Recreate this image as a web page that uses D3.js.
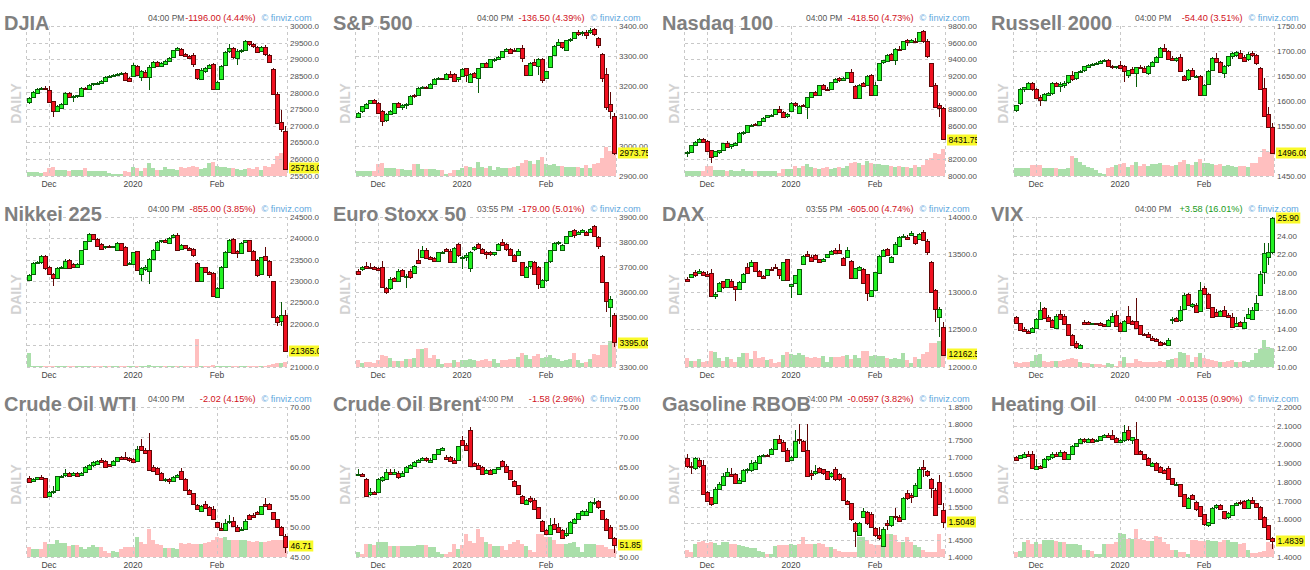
<!DOCTYPE html>
<html>
<head>
<meta charset="utf-8">
<script src="https://cdn.jsdelivr.net/npm/d3@7"></script>
<style>
  body { margin: 0; background: #fff; }
  svg { display: block; font-family: "Liberation Sans", Arial, sans-serif; }
</style>
</head>
<body>
<div id="chart"></div>
<script>
// trading days shown on every panel
const days = [
  "2019-11-22","2019-11-25","2019-11-26","2019-11-27","2019-11-29",
  "2019-12-02","2019-12-03","2019-12-04","2019-12-05","2019-12-06","2019-12-09","2019-12-10","2019-12-11",
  "2019-12-12","2019-12-13","2019-12-16","2019-12-17","2019-12-18","2019-12-19","2019-12-20","2019-12-23",
  "2019-12-24","2019-12-26","2019-12-27","2019-12-30","2019-12-31",
  "2020-01-02","2020-01-03","2020-01-06","2020-01-07","2020-01-08","2020-01-09","2020-01-10","2020-01-13",
  "2020-01-14","2020-01-15","2020-01-16","2020-01-17","2020-01-21","2020-01-22","2020-01-23","2020-01-24",
  "2020-01-27","2020-01-28","2020-01-29","2020-01-30","2020-01-31",
  "2020-02-03","2020-02-04","2020-02-05","2020-02-06","2020-02-07","2020-02-10","2020-02-11","2020-02-12",
  "2020-02-13","2020-02-14","2020-02-18","2020-02-19","2020-02-20","2020-02-21","2020-02-24","2020-02-25",
  "2020-02-26","2020-02-27"
];
const tickDays = ["2019-12-02", "2020-01-02", "2020-02-03"];
const tickNames = ["Dec", "2020", "Feb"];

const titles = ["DJIA", "S&P 500", "Nasdaq 100", "Russell 2000", "Nikkei 225", "Euro Stoxx 50", "DAX", "VIX",
  "Crude Oil WTI", "Crude Oil Brent", "Gasoline RBOB", "Heating Oil"];
const times = ["04:00 PM", "04:00 PM", "04:00 PM", "04:00 PM", "04:00 PM", "03:55 PM", "03:55 PM", "04:00 PM",
  "04:00 PM", "04:00 PM", "04:00 PM", "04:00 PM"];
const changes = ["-1196.00 (4.44%)", "-136.50 (4.39%)", "-418.50 (4.73%)", "-54.40 (3.51%)", "-855.00 (3.85%)",
  "-179.00 (5.01%)", "-605.00 (4.74%)", "+3.58 (16.01%)", "-2.02 (4.15%)", "-1.58 (2.96%)",
  "-0.0597 (3.82%)", "-0.0135 (0.90%)"];
const lastLabels = ["25718.00", "2973.75", "8431.75", "1496.00", "21365.00", "3395.00", "12162.50", "25.90",
  "46.71", "51.85", "1.5048", "1.4839"];
const yMin = [25500, 2900, 8000, 1450, 21000, 3300, 12000, 10, 45, 50, 1.40, 1.40];
const yMax = [30000, 3400, 9800, 1750, 24500, 3900, 14000, 26, 70, 75, 1.85, 2.20];
const tickMax = [30000, 3400, 9800, 1750, 24500, 3900, 14000, 24, 70, 75, 1.85, 2.20];
const yStep = [500, 100, 200, 50, 500, 100, 500, 2, 5, 5, 0.05, 0.1];
const yDigits = [2, 2, 2, 2, 2, 2, 2, 2, 2, 2, 4, 4];

// [open, high, low, close]
const djia = [
[27700,27860,27660,27830],[27860,28030,27850,28010],[27990,28130,27970,28110],[28100,28160,28080,28130],[28140,28180,28080,28100],
[28080,28190,27700,27730],[27740,27750,27260,27430],[27430,27610,27400,27590],[27540,27680,27500,27660],[27660,28000,27640,27980],
[27980,28000,27850,27870],[27870,27920,27710,27900],[27890,27930,27840,27910],[27900,28150,27890,28130],[28140,28170,28080,28110],
[28120,28240,28110,28230],[28230,28290,28200,28270],[28260,28300,28230,28290],[28280,28370,28270,28350],[28350,28480,28340,28470],
[28470,28520,28450,28510],[28510,28560,28490,28540],[28540,28580,28510,28550],[28560,28620,28530,28600],[28600,28620,28370,28390],
[28440,28460,28330,28360],[28480,28880,28470,28820],[28810,28840,28520,28540],[28450,28680,28330,28640],[28620,28680,28440,28460],
[28460,28820,28060,28760],[28750,28960,28730,28910],[28910,28950,28780,28800],[28800,28920,28780,28900],[28880,28980,28860,28960],
[28950,29060,28940,29050],[29050,29290,29040,29270],[29270,29360,29260,29330],[29320,29340,29130,29150],[29150,29180,29080,29100],
[29110,29130,29020,29060],[29140,29200,28760,28860],[28700,28720,28380,28420],[28420,28730,28400,28690],[28650,28780,28600,28740],
[28740,28870,28700,28820],[28860,28880,28100,28120],[28120,28350,28100,28320],[28400,28830,28390,28800],[28830,29250,28820,29230],
[29230,29470,29200,29330],[29330,29360,29020,29060],[29060,29300,28820,29260],[29260,29310,29190,29270],[29280,29570,29270,29540],
[29540,29560,29410,29450],[29450,29500,29350,29390],[29380,29410,29180,29220],[29230,29410,29220,29360],[29360,29420,29100,29140],
[29140,29160,28880,28920],[28720,28730,27930,27960],[27960,28000,27050,27080],[27100,27480,26800,26880],[26850,26980,25710,25720]
];
const djiaVol = [4,4,4,3,4, 8,9,6,6,6, 5,6,6,6,8, 5,5,5,5,5, 3,2,2,2,5, 4,9,8,5,8, 13,8,6,6,9,
  7,7,6,9,8, 9,10,9,7,8, 13,14,10,9,9, 8,8,7,6,7, 8,7,9,6,10, 9,12,20,23,24];

const spx = [
[3098,3112,3093,3110],[3114,3133,3110,3131],[3127,3142,3124,3140],[3141,3153,3138,3151],[3152,3155,3138,3141],
[3143,3145,3106,3108],[3116,3118,3065,3084],[3086,3108,3080,3106],[3107,3119,3103,3117],[3109,3144,3107,3142],
[3143,3146,3127,3129],[3131,3139,3120,3137],[3135,3143,3122,3140],[3138,3168,3136,3166],[3170,3173,3160,3168],
[3171,3196,3169,3194],[3192,3198,3189,3196],[3196,3199,3188,3191],[3194,3209,3192,3207],[3208,3226,3206,3224],
[3223,3228,3221,3226],[3225,3227,3220,3222],[3222,3242,3220,3240],[3240,3250,3228,3231],[3239,3242,3212,3216],
[3220,3230,3213,3228],[3232,3258,3230,3256],[3258,3261,3212,3233],[3214,3243,3210,3241],[3243,3247,3225,3229],
[3225,3260,3177,3258],[3260,3277,3258,3275],[3276,3280,3260,3263],[3262,3290,3260,3288],[3285,3292,3278,3289],
[3289,3298,3285,3296],[3297,3318,3295,3316],[3314,3328,3312,3322],[3322,3328,3308,3310],[3320,3325,3314,3317],
[3315,3328,3313,3326],[3325,3338,3280,3292],[3268,3270,3232,3235],[3236,3278,3234,3276],[3280,3290,3268,3270],
[3268,3293,3235,3291],[3290,3292,3210,3221],[3226,3251,3222,3249],[3260,3300,3258,3298],[3305,3336,3303,3334],
[3335,3356,3333,3345],[3345,3348,3322,3327],[3318,3354,3316,3352],[3352,3359,3345,3357],[3360,3381,3358,3379],
[3380,3386,3365,3373],[3378,3382,3368,3380],[3380,3385,3358,3370],[3380,3392,3374,3386],[3390,3394,3365,3373],
[3360,3363,3325,3337],[3305,3310,3214,3225],[3238,3260,3118,3128],[3139,3180,3090,3116],[3098,3110,2970,2974]
];
const spxVol = [5,5,5,5,5, 12,13,8,8,8, 7,7,6,6,12, 12,7,7,7,7, 6,6,2,3,6, 6,8,10,9,8, 14,9,8,10,6,
  9,8,8,8,9, 10,13,16,15,12, 16,19,12,11,12, 10,10,9,9,9, 9,8,11,8,12, 13,18,29,25,22];

const ndx = [
[8270,8300,8220,8280],[8283,8370,8270,8364],[8364,8410,8350,8404],[8404,8450,8395,8444],[8444,8455,8400,8404],
[8420,8430,8300,8303],[8303,8310,8150,8222],[8235,8300,8220,8290],[8280,8310,8260,8303],[8300,8395,8295,8390],
[8394,8410,8340,8345],[8350,8380,8320,8375],[8360,8400,8350,8390],[8400,8520,8395,8510],[8510,8540,8490,8520],
[8525,8610,8520,8605],[8600,8620,8590,8610],[8615,8630,8590,8600],[8605,8660,8600,8655],[8660,8700,8650,8695],
[8700,8730,8690,8725],[8720,8735,8710,8728],[8730,8805,8725,8795],[8800,8840,8760,8765],[8768,8775,8700,8710],
[8715,8750,8690,8740],[8770,8880,8765,8872],[8870,8890,8820,8840],[8750,8850,8740,8835],[8845,8860,8820,8830],
[8820,8950,8675,8940],[8945,9010,8935,9005],[9010,9020,8960,8970],[8970,9090,8960,9085],[9085,9100,9030,9035],
[9040,9060,9020,9030],[9040,9130,9030,9125],[9130,9170,9120,9165],[9168,9180,9130,9140],[9150,9180,9140,9170],
[9170,9250,9160,9245],[9245,9280,9120,9128],[9080,9090,8920,8930],[8930,9100,8920,9090],[9110,9130,9060,9075],
[9090,9205,9080,9200],[9210,9220,8960,8970],[8975,9120,8965,9092],[9150,9360,9140,9355],[9355,9390,9340,9385],
[9385,9460,9380,9455],[9460,9470,9380,9390],[9390,9530,9330,9525],[9525,9560,9500,9515],[9520,9620,9510,9615],
[9630,9640,9560,9610],[9615,9640,9600,9635],[9625,9650,9600,9615],[9620,9730,9615,9725],[9740,9750,9600,9615],
[9620,9640,9420,9435],[9350,9360,9070,9075],[9090,9110,8830,8830],[8850,8870,8700,8815],[8810,8830,8425,8432]
];
const ndxVol = [5,5,5,5,5, 10,10,6,6,6, 5,6,5,5,7, 5,5,5,5,5, 5,5,5,3,7, 7,7,10,8,10, 12,9,8,7,8,
  9,7,8,9,8, 10,13,14,13,11, 15,13,12,12,11, 11,10,9,10,9, 9,8,11,9,11, 16,18,23,22,27];

const rut = [
[1582,1592,1578,1592],[1594,1625,1592,1623],[1622,1628,1618,1627],[1624,1637,1622,1636],[1636,1638,1620,1623],
[1623,1625,1604,1605],[1608,1612,1590,1602],[1601,1615,1599,1614],[1612,1618,1610,1616],[1614,1637,1612,1635],
[1636,1638,1628,1629],[1630,1638,1618,1634],[1631,1640,1625,1636],[1636,1652,1634,1651],[1652,1660,1640,1643],
[1644,1658,1642,1657],[1657,1662,1655,1660],[1660,1670,1658,1669],[1668,1674,1666,1672],[1671,1676,1670,1674],
[1674,1678,1672,1676],[1676,1681,1675,1680],[1680,1684,1678,1682],[1682,1683,1667,1669],[1669,1671,1664,1666],
[1666,1670,1664,1669],[1672,1680,1664,1665],[1670,1672,1638,1660],[1650,1662,1645,1661],[1664,1668,1655,1656],
[1655,1668,1627,1667],[1668,1672,1664,1666],[1666,1670,1656,1657],[1655,1672,1652,1670],[1669,1679,1667,1678],
[1678,1689,1676,1688],[1687,1708,1685,1706],[1706,1713,1698,1699],[1699,1702,1682,1683],[1685,1690,1680,1681],
[1681,1688,1678,1686],[1688,1694,1659,1659],[1650,1652,1640,1641],[1642,1663,1640,1661],[1662,1665,1648,1649],
[1648,1652,1646,1650],[1650,1652,1611,1612],[1612,1634,1610,1632],[1634,1662,1632,1660],[1661,1687,1659,1685],
[1686,1695,1677,1678],[1678,1680,1655,1657],[1655,1671,1645,1669],[1670,1690,1668,1689],[1688,1697,1684,1695],
[1692,1700,1688,1698],[1695,1702,1683,1684],[1688,1692,1678,1679],[1682,1698,1680,1693],[1695,1700,1688,1690],
[1691,1694,1672,1674],[1665,1667,1622,1622],[1625,1645,1568,1568],[1573,1587,1545,1546],[1548,1556,1496,1496]
];
const rutVol = [8,8,8,8,11, 11,11,8,8,8, 8,7,7,8,20, 18,14,11,9,8, 6,3,2,8,9, 11,12,13,9,11, 14,10,12,10,12,
  12,13,11,11,10, 11,14,16,12,11, 14,17,13,13,12, 11,12,10,11,10, 9,10,10,9,13, 13,19,27,24,24];

const nikkei = [
[23030,23160,23000,23150],[23170,23440,23160,23420],[23420,23470,23400,23440],[23430,23620,23410,23580],[23580,23620,23270,23290],
[23340,23360,23150,23170],[23170,23180,22880,23080],[23070,23340,23060,23310],[23300,23350,23280,23330],[23310,23510,23300,23480],
[23500,23520,23300,23310],[23400,23420,23300,23320],[23330,23420,23320,23400],[23400,23730,23390,23720],[23750,23940,23740,23930],
[23930,24120,23920,24100],[24100,24110,23980,23990],[23990,24000,23820,23830],[23870,23880,23740,23760],[23780,23830,23760,23810],
[23810,23840,23790,23800],[23790,23830,23780,23820],[23730,23920,23720,23900],[23890,23900,23700,23720],[23800,23810,23380,23390],
[23400,23440,23380,23420],[23410,23690,23400,23680],[23700,23710,23240,23260],[23170,23330,23000,23300],[23290,23380,23240,23340],
[23250,23540,22930,23520],[23520,23740,23510,23730],[23730,23930,23720,23920],[23920,23970,23880,23950],[23950,23980,23880,23900],
[23910,24040,23900,24020],[24030,24100,24020,24080],[24080,24120,23730,23740],[23740,23860,23730,23840],[23840,23850,23740,23760],
[23780,23790,23720,23740],[23760,23770,23560,23620],[23430,23440,22990,23000],[23000,23340,22990,23330],[23330,23340,23200,23210],
[23220,23230,23150,23170],[23200,23210,22640,22660],[22620,22860,22600,22840],[22840,23360,22830,23340],[23340,23700,23330,23680],
[23680,23980,23670,23960],[23980,24000,23640,23660],[23700,23720,23550,23660],[23660,23920,23650,23900],[23900,23970,23880,23950],
[23960,23970,23680,23700],[23700,23720,23490,23500],[23500,23510,23100,23160],[23160,23570,23150,23560],[23580,23790,23470,23480],
[23480,23500,23080,23160],[23000,23010,22150,22160],[22160,22180,21950,22040],[22050,22500,21950,22200],[22200,22320,21350,21365]
];
const nikkeiVol = [14,1,1,1,1, 1,1,0.5,0.5,0.5, 1,0.5,0.5,1,1, 1,0.5,0.5,0.5,0.5, 0.5,0.5,0.5,0.5,0.5,
  0.5,1,1,1,1, 1.5,1,0.5,0.5,0.5, 0.5,1,0.5,0.5,0.5, 0.5,1,28,1,1, 1,1.5,1,1,1, 0.5,0.5,0.5,0.5,0.5,
  0.5,0.5,0.5,1,1, 2,3,4,4,5];

const stoxx = [
[3683,3690,3672,3672],[3688,3705,3685,3698],[3702,3718,3692,3695],[3700,3715,3693,3696],[3698,3702,3688,3690],
[3695,3700,3686,3688],[3700,3725,3615,3618],[3615,3620,3590,3600],[3615,3660,3608,3652],[3656,3660,3640,3645],
[3645,3690,3640,3685],[3688,3692,3660,3662],[3659,3670,3615,3665],[3682,3690,3652,3656],[3675,3708,3670,3705],
[3729,3770,3718,3718],[3740,3785,3735,3769],[3769,3775,3735,3737],[3740,3745,3730,3733],[3737,3740,3720,3726],
[3723,3760,3718,3758],[3756,3765,3750,3760],[3770,3775,3758,3760],[3765,3770,3717,3719],[3722,3780,3718,3777],
[3790,3795,3740,3745],[3735,3745,3692,3740],[3740,3755,3725,3748],[3692,3762,3680,3758],[3770,3785,3765,3780],
[3790,3795,3770,3773],[3773,3776,3750,3755],[3760,3765,3730,3753],[3760,3765,3745,3750],[3750,3760,3745,3758],
[3768,3795,3765,3792],[3800,3810,3785,3786],[3790,3795,3765,3770],[3770,3775,3742,3746],[3746,3750,3720,3723],
[3745,3770,3742,3763],[3718,3720,3665,3665],[3660,3705,3656,3700],[3700,3725,3690,3722],[3720,3725,3670,3672],
[3700,3702,3610,3630],[3620,3652,3618,3648],[3645,3720,3640,3718],[3720,3768,3715,3766],[3766,3798,3762,3795],
[3795,3805,3788,3800],[3766,3790,3762,3788],[3792,3825,3790,3822],[3823,3845,3820,3842],[3846,3850,3815,3826],
[3832,3842,3828,3840],[3838,3850,3834,3846],[3840,3845,3825,3826],[3840,3855,3835,3852],[3862,3868,3818,3820],
[3820,3825,3770,3785],[3745,3748,3638,3640],[3640,3640,3520,3565],[3538,3583,3457,3571],[3505,3515,3380,3395]
];
const stoxxVol = [7,4,5,5,4, 7,12,11,9,6, 6,6,8,8,9, 18,18,19,9,12, 8,3,4,4,7, 5,7,7,8,7, 6,7,8,6,8,
  4,7,7,8,8, 10,14,12,8,11, 13,9,10,12,9, 8,6,7,8,14, 7,4,5,8,13, 12,22,22,26,24];

const dax = [
[13165,13200,13130,13135],[13190,13240,13180,13235],[13258,13290,13200,13215],[13245,13310,13240,13275],[13260,13280,13215,13222],
[13240,13280,13200,13215],[13250,13310,12930,12940],[12945,12990,12900,12975],[13015,13130,13000,13120],[13140,13150,13040,13055],
[13060,13170,13050,13165],[13150,13175,13070,13075],[13075,13080,12880,13040],[13040,13140,13030,13132],[13130,13250,13120,13236],
[13330,13390,13240,13245],[13335,13420,13330,13393],[13393,13400,13260,13270],[13280,13290,13200,13210],[13210,13220,13170,13180],
[13220,13310,13215,13303],[13310,13330,13285,13290],[13330,13370,13310,13312],[13300,13305,13170,13222],[13150,13400,13145,13393],
[13435,13440,13150,13155],[13075,13110,12920,13100],[13110,13225,13105,13220],[12965,13310,12955,13300],[13370,13490,13365,13480],
[13505,13540,13470,13480],[13460,13490,13400,13403],[13485,13500,13420,13425],[13435,13440,13380,13390],[13407,13445,13400,13438],
[13470,13510,13465,13505],[13515,13560,13510,13550],[13560,13590,13510,13525],[13560,13640,13500,13515],[13450,13460,13350,13360],
[13470,13600,13465,13560],[13415,13420,13185,13190],[13180,13320,13175,13312],[13300,13340,13280,13335],[13310,13320,13110,13120],
[13235,13240,12870,12975],[12940,13030,12930,13020],[13020,13270,13015,13265],[13250,13490,13245,13480],[13480,13570,13475,13560],
[13570,13580,13490,13495],[13405,13480,13400,13470],[13510,13660,13505,13640],[13615,13750,13610,13730],[13730,13770,13720,13745],
[13730,13760,13700,13705],[13755,13810,13750,13785],[13740,13745,13630,13640],[13705,13790,13700,13775],[13805,13820,13690,13694],
[13685,13700,13490,13535],[13400,13405,12980,12995],[13030,13040,12600,12770],[12670,12790,12390,12773],[12530,12590,12135,12162]
];
const daxVol = [9,6,6,8,5, 6,16,15,9,6, 10,8,5,10,14, 14,8,16,9,10, 7,8,4,5,12, 15,13,12,14,12, 10,9,10,9,11,
  5,10,10,10,11, 12,8,12,9,16, 16,11,12,11,11, 9,8,9,8,14, 7,4,10,8,13, 15,24,24,26,18];

const vix = [
[15.30,15.40,14.60,14.63],[14.65,14.70,13.80,13.85],[14.00,14.20,13.70,13.77],[13.85,13.90,13.60,13.66],[13.66,14.20,13.60,14.13],
[14.13,15.20,14.10,15.10],[15.10,16.95,15.00,16.10],[16.28,16.40,15.10,15.20],[15.30,15.50,14.80,14.85],[15.00,15.10,14.20,14.20],
[14.20,15.60,14.10,15.45],[15.60,16.10,15.00,15.10],[15.40,15.60,14.50,14.56],[14.55,14.60,13.40,13.40],[13.40,13.50,12.30,12.33],
[12.47,12.70,11.90,12.05],[12.05,12.40,11.90,12.33],[14.75,14.95,14.50,14.55],[14.75,14.85,14.50,14.50],[14.50,14.70,14.45,14.62],
[14.62,14.70,14.45,14.50],[14.70,14.80,14.50,14.50],[14.55,14.60,14.35,14.38],[14.38,15.10,14.30,14.98],[14.85,15.70,14.80,15.45],
[15.55,15.95,14.35,14.38],[14.70,14.80,13.80,13.85],[13.85,14.95,13.80,14.90],[15.45,16.50,14.60,14.65],[14.90,15.00,14.50,14.55],
[14.90,17.30,14.10,14.10],[14.40,14.40,13.40,13.40],[13.48,13.60,13.35,13.37],[13.45,13.70,13.10,13.13],[13.10,13.25,12.80,12.85],
[12.95,13.10,12.70,12.75],[12.65,12.70,12.30,12.33],[12.50,12.60,12.30,12.35],[12.33,13.00,12.20,12.85],[15.00,15.30,14.60,15.10],
[15.20,15.30,14.75,14.85],[14.90,16.50,14.80,16.00],[16.20,17.90,16.10,17.70],[17.75,17.90,16.50,16.55],[16.45,16.80,16.30,16.65],
[16.60,16.80,15.80,15.85],[15.85,19.00,15.80,18.15],[18.40,18.60,17.70,17.80],[17.80,17.90,16.30,16.35],[16.40,16.40,15.30,15.35],
[15.80,16.20,15.30,15.35],[15.35,16.00,15.30,15.92],[16.05,16.50,15.40,15.45],[15.55,15.70,15.30,15.35],[15.35,15.70,14.30,14.30],
[14.30,15.30,14.20,14.65],[14.75,14.90,14.20,14.28],[14.20,15.30,14.10,14.80],[15.20,16.30,15.10,15.60],[15.10,16.40,15.00,16.10],
[16.10,17.65,16.00,16.80],[17.70,20.20,17.60,19.95],[20.10,23.20,18.80,22.10],[21.80,23.20,20.85,22.30],[22.30,25.95,22.00,25.90]
];
const vixVol = [5,4,5,5,6, 12,13,6,5,6, 6,6,7,8,9, 8,5,4,4,3, 3,3,2,4,3, 1,6,10,4,4, 8,6,5,5,5,
  5,6,5,7,8, 9,15,14,12,5, 10,14,9,8,7, 6,5,5,6,7, 5,5,6,5,7, 14,18,27,20,19];

const wti = [
[58.20,58.50,57.40,57.50],[57.64,58.10,57.50,58.03],[58.00,58.35,57.90,58.30],[58.35,58.60,57.80,57.95],[58.10,58.20,55.00,55.00],
[55.10,56.00,55.00,55.80],[55.70,56.80,55.50,55.95],[56.10,58.50,56.00,58.40],[58.25,58.70,58.10,58.50],[58.50,59.60,58.30,58.90],
[59.00,59.10,58.40,58.50],[58.60,59.10,58.40,59.00],[59.00,59.20,58.30,58.50],[58.60,59.10,58.50,59.00],[59.10,60.20,59.00,59.90],
[59.70,60.50,59.60,60.30],[60.20,60.90,60.00,60.75],[60.50,61.20,60.40,61.00],[61.10,61.40,60.60,60.70],[61.05,61.20,59.90,60.00],
[60.40,60.50,59.90,60.00],[60.40,61.10,60.30,61.00],[61.00,61.70,60.90,61.70],[61.70,61.80,61.10,61.30],[61.60,62.40,61.20,61.30],
[61.40,61.60,60.80,61.00],[61.30,61.50,60.60,60.80],[61.00,63.50,60.90,63.00],[63.50,64.70,62.80,62.85],[62.85,63.20,62.30,62.40],
[62.80,65.70,59.40,59.50],[59.90,60.30,59.10,59.30],[59.80,60.00,58.70,58.80],[58.90,59.20,57.80,57.80],[57.80,58.20,57.50,58.00],
[58.00,58.10,57.20,57.60],[57.70,58.40,57.60,58.30],[58.30,58.80,58.10,58.70],[59.30,59.80,57.90,58.00],[58.00,58.10,56.20,56.20],
[56.10,56.30,55.30,55.40],[55.60,55.70,53.60,53.70],[53.60,53.80,52.80,53.00],[52.60,53.60,52.50,53.40],[53.80,54.20,53.00,53.10],
[53.20,53.40,51.70,51.80],[53.00,53.40,51.20,51.30],[50.70,50.80,49.80,49.80],[49.80,50.60,49.30,49.40],[49.40,51.20,49.20,50.60],
[50.70,51.90,50.40,50.90],[50.90,51.60,50.00,50.10],[50.00,50.20,49.30,49.40],[49.40,49.90,49.30,49.60],[49.60,51.20,49.50,50.90],
[51.90,52.10,51.10,51.30],[52.00,52.30,51.50,51.60],[52.40,52.60,51.90,52.00],[52.00,53.50,51.90,53.40],[53.70,54.70,53.20,53.30],
[53.70,53.90,52.70,52.90],[52.40,52.50,51.10,51.20],[51.20,51.30,49.70,49.80],[50.00,50.10,48.50,48.65],[48.50,48.80,45.60,46.71]
];
const wtiVol = [10,8,8,8,15, 13,13,17,14,14, 11,12,12,10,8, 10,12,10,10,6, 4,6,5,8,10, 10,10,20,15,13,
  28,17,13,12,9, 9,9,8,14,13, 14,13,13,13,14, 15,17,20,19,20, 17,17,17,17,17, 16,15,16,15,15, 16,17,17,17,18];

const brent = [
[63.70,64.60,63.40,63.80],[63.80,64.00,63.40,63.50],[63.00,63.10,60.10,60.10],[60.40,61.50,60.20,60.80],[60.80,61.00,60.30,60.40],
[60.80,63.10,60.70,62.90],[62.80,63.50,62.40,63.30],[63.10,64.70,63.00,64.20],[64.20,64.60,63.80,63.90],[63.90,64.60,63.60,64.20],
[64.00,64.30,63.00,63.40],[63.50,64.30,63.30,64.00],[64.10,65.10,64.00,65.00],[64.80,65.40,64.60,65.30],[65.10,66.00,65.00,65.80],
[65.80,66.30,65.60,66.10],[66.00,66.60,65.90,66.40],[66.40,66.70,65.80,66.00],[65.90,66.40,65.70,66.20],[66.20,67.20,66.10,67.10],
[67.00,68.00,66.90,67.90],[67.90,68.30,67.70,68.20],[66.70,66.90,66.10,66.30],[66.60,66.80,65.80,65.90],[66.20,66.40,65.60,65.70],
[66.00,68.50,65.90,68.40],[69.40,70.20,68.40,68.60],[68.60,69.00,67.70,67.80],[71.20,71.70,65.20,65.20],[65.60,65.80,64.90,65.10],
[65.30,65.60,64.50,64.70],[65.00,65.20,63.90,63.90],[64.00,64.60,63.80,64.50],[64.50,64.70,63.60,63.80],[64.00,64.70,63.80,64.60],
[64.50,65.00,64.40,64.90],[65.90,66.10,64.90,65.10],[65.20,65.50,64.00,64.20],[64.40,64.50,62.90,62.90],[62.60,62.80,61.60,61.70],
[61.90,62.00,60.30,60.40],[60.10,60.30,59.00,59.00],[58.70,59.60,58.60,59.40],[59.80,60.10,59.00,59.30],[59.50,59.70,57.80,58.00],
[58.20,58.30,56.20,56.30],[55.90,56.10,54.20,54.20],[54.40,54.60,53.60,53.70],[53.70,56.50,53.60,55.20],[55.50,56.50,54.50,54.60],
[55.00,55.60,54.10,54.20],[54.40,54.60,53.10,53.10],[53.50,54.70,53.30,53.90],[54.00,56.00,53.90,55.80],[55.60,56.40,55.40,56.20],
[56.20,57.30,56.10,57.20],[57.00,57.80,56.70,57.60],[57.00,58.00,56.80,57.60],[57.40,59.20,57.30,59.10],[58.90,59.80,58.60,59.10],
[59.20,59.40,58.00,58.20],[57.70,57.80,56.10,56.20],[56.30,56.50,54.40,54.50],[55.00,55.20,53.00,53.10],[53.10,53.30,50.60,51.85]
];
const brentVol = [5,3,13,13,12, 15,15,15,11,11, 11,11,11,11,11, 12,12,12,10,10, 5,3,3,5,13, 8,12,23,16,14,
  28,20,15,13,11, 11,11,7,13,15, 17,13,11,7,5, 23,23,20,20,17, 13,13,13,14,15, 10,5,13,13,13, 12,12,10,8,8];

const rbob = [
[1.695,1.710,1.665,1.671],[1.672,1.685,1.648,1.670],[1.665,1.700,1.660,1.696],[1.690,1.695,1.665,1.672],[1.675,1.690,1.585,1.587],
[1.594,1.597,1.565,1.567],[1.578,1.580,1.553,1.557],[1.562,1.610,1.558,1.603],[1.602,1.625,1.600,1.617],[1.617,1.650,1.615,1.643],
[1.642,1.665,1.638,1.653],[1.648,1.665,1.640,1.643],[1.648,1.652,1.618,1.620],[1.622,1.635,1.618,1.630],[1.628,1.662,1.625,1.661],
[1.658,1.665,1.652,1.662],[1.660,1.690,1.655,1.682],[1.662,1.690,1.660,1.683],[1.683,1.706,1.680,1.703],[1.703,1.710,1.700,1.705],
[1.705,1.708,1.700,1.704],[1.708,1.727,1.705,1.724],[1.724,1.755,1.722,1.754],[1.755,1.765,1.740,1.742],[1.744,1.750,1.716,1.718],
[1.720,1.728,1.688,1.688],[1.692,1.702,1.690,1.700],[1.702,1.780,1.700,1.749],[1.755,1.800,1.740,1.751],[1.749,1.752,1.720,1.720],
[1.720,1.800,1.640,1.643],[1.652,1.660,1.630,1.645],[1.651,1.675,1.645,1.656],[1.666,1.668,1.650,1.653],[1.662,1.664,1.645,1.650],
[1.656,1.658,1.635,1.633],[1.643,1.655,1.635,1.652],[1.662,1.668,1.628,1.633],[1.647,1.650,1.628,1.633],[1.637,1.640,1.570,1.572],
[1.567,1.570,1.555,1.557],[1.560,1.562,1.508,1.511],[1.501,1.505,1.430,1.476],[1.466,1.505,1.462,1.501],[1.517,1.545,1.515,1.536],
[1.533,1.537,1.495,1.501],[1.529,1.535,1.490,1.491],[1.486,1.490,1.460,1.465],[1.465,1.490,1.450,1.455],[1.432,1.490,1.430,1.483],
[1.500,1.510,1.480,1.493],[1.493,1.520,1.490,1.521],[1.523,1.545,1.510,1.519],[1.519,1.525,1.505,1.506],[1.515,1.580,1.512,1.577],
[1.592,1.600,1.570,1.577],[1.585,1.590,1.560,1.578],[1.582,1.620,1.580,1.614],[1.607,1.670,1.605,1.663],[1.668,1.690,1.640,1.663],
[1.656,1.660,1.640,1.643],[1.632,1.635,1.575,1.604],[1.601,1.605,1.528,1.526],[1.625,1.645,1.555,1.560],[1.540,1.560,1.485,1.5048]
];
const rbobVol = [7,5,13,15,16, 14,15,14,12,15, 15,13,13,12,11, 10,9,9,6,5, 3,3,11,12,12, 12,13,12,13,20,
  13,13,13,14,13, 10,10,8,6,5, 5,5,5,20,20, 17,13,12,12,28, 23,23,22,15,15, 20,15,12,10,7, 5,5,5,23,8];

const heat = [
[1.935,1.940,1.915,1.918],[1.925,1.945,1.920,1.943],[1.932,1.960,1.930,1.948],[1.948,1.965,1.930,1.936],[1.948,1.965,1.870,1.871],
[1.868,1.920,1.865,1.882],[1.882,1.890,1.868,1.871],[1.876,1.925,1.874,1.921],[1.918,1.940,1.910,1.936],[1.930,1.960,1.920,1.948],
[1.948,1.960,1.935,1.936],[1.936,1.968,1.930,1.960],[1.957,1.962,1.915,1.921],[1.921,1.950,1.915,1.948],[1.950,1.995,1.945,1.993],
[1.990,2.010,1.985,2.008],[2.010,2.035,2.005,2.030],[2.027,2.035,2.010,2.015],[2.015,2.035,2.010,2.030],[2.030,2.035,2.012,2.015],
[2.020,2.030,2.015,2.022],[2.020,2.045,2.018,2.043],[2.040,2.055,2.035,2.050],[2.050,2.060,2.035,2.040],[2.050,2.075,2.025,2.030],
[2.035,2.040,2.005,2.012],[2.015,2.030,2.010,2.025],[2.020,2.105,2.015,2.065],[2.075,2.100,2.020,2.025],[2.020,2.040,2.000,2.038],
[2.030,2.120,1.945,1.950],[1.965,1.970,1.945,1.947],[1.948,1.950,1.920,1.921],[1.928,1.930,1.885,1.889],[1.886,1.905,1.880,1.903],
[1.903,1.905,1.865,1.867],[1.880,1.885,1.850,1.853],[1.865,1.870,1.848,1.850],[1.876,1.885,1.815,1.817],[1.820,1.822,1.780,1.786],
[1.786,1.800,1.775,1.787],[1.786,1.790,1.720,1.724],[1.732,1.735,1.665,1.670],[1.662,1.720,1.660,1.714],[1.727,1.735,1.700,1.706],
[1.690,1.695,1.645,1.652],[1.670,1.672,1.612,1.616],[1.626,1.630,1.565,1.571],[1.565,1.585,1.560,1.583],[1.580,1.665,1.578,1.662],
[1.660,1.682,1.655,1.673],[1.673,1.682,1.650,1.652],[1.642,1.645,1.605,1.607],[1.610,1.640,1.600,1.631],[1.617,1.675,1.615,1.673],
[1.675,1.690,1.670,1.684],[1.690,1.700,1.675,1.684],[1.699,1.700,1.655,1.660],[1.660,1.710,1.655,1.705],[1.702,1.718,1.680,1.684],
[1.684,1.688,1.660,1.664],[1.665,1.670,1.600,1.601],[1.611,1.615,1.555,1.558],[1.566,1.570,1.488,1.490],[1.498,1.505,1.440,1.4839]
];
const heatVol = [5,6,15,17,13, 15,13,17,17,17, 16,15,15,13,13, 13,12,7,7,6, 3,3,13,13,13, 15,24,23,18,18,
  28,18,17,16,16, 21,20,15,13,7, 7,5,5,3,17, 17,16,16,17,16, 16,15,17,17,15, 15,13,14,7,4, 4,5,6,15,13];

const candleSets = [djia, spx, ndx, rut, nikkei, stoxx, dax, vix, wti, brent, rbob, heat];
const volumeSets = [djiaVol, spxVol, ndxVol, rutVol, nikkeiVol, stoxxVol, daxVol, vixVol, wtiVol, brentVol, rbobVol, heatVol];

// look
const upFill = "#22f222", upLine = "#075c07";
const downFill = "#f01020", downLine = "#600606";
const volUp = "#aadfaa", volDown = "#ffbfbf";
const gridColor = "#c8c8c8";

const svg = d3.select("#chart").append("svg")
  .attr("width", 1310)
  .attr("height", 570);
const defs = svg.append("defs");

titles.forEach((name, k) => {
  const col = k % 4, row = Math.floor(k / 4);
  const ox = -2 + col * 329;
  const oy = Math.round(row * 190.5);
  const left = ox + 29, right = left + 260;
  const top = oy + 26, bottom = oy + 175.5;

  defs.append("clipPath").attr("id", "clip" + k)
    .append("rect").attr("x", ox).attr("y", oy).attr("width", 321).attr("height", 191);

  const g = svg.append("g").attr("clip-path", `url(#clip${k})`);

  const x = d3.scaleBand().domain(days).range([left, right]);
  const y = d3.scaleLinear().domain([yMin[k], yMax[k]]).range([bottom, top]);
  const v = d3.scaleLinear().domain([0, 30]).range([0, 30]);

  const bars = candleSets[k].map((c, i) => ({ day: days[i], o: c[0], h: c[1], l: c[2], c: c[3], vol: volumeSets[k][i] }));
  const up = d => d.c >= d.o;
  const last = bars[bars.length - 1];

  const nTicks = Math.round((tickMax[k] - yMin[k]) / yStep[k]);
  const ticks = d3.range(0, nTicks + 1).map(i => +(yMin[k] + i * yStep[k]).toFixed(4));
  const gridVals = Array.from(new Set([...ticks, yMax[k]]));
  // labels mostly hidden by the last-price tag are left out
  const labelTicks = ticks.filter(t => Math.abs(y(t) - y(last.c)) >= 7);

  // volume
  g.append("g").selectAll("rect").data(bars).join("rect")
    .attr("x", d => x(d.day))
    .attr("width", x.bandwidth())
    .attr("y", d => bottom - v(d.vol))
    .attr("height", d => v(d.vol))
    .attr("fill", d => up(d) ? volUp : volDown)
    .attr("shape-rendering", "crispEdges");

  // grid
  g.append("g").selectAll("line").data(gridVals).join("line")
    .attr("x1", left).attr("x2", right)
    .attr("y1", d => Math.round(y(d)) + 0.5).attr("y2", d => Math.round(y(d)) + 0.5)
    .attr("stroke", gridColor).attr("stroke-dasharray", "3,3");
  const vLines = [left - 0.5, right + 0.5, ...tickDays.map(d => x(d) + 2.5)];
  g.append("g").selectAll("line").data(vLines).join("line")
    .attr("x1", d => d).attr("x2", d => d)
    .attr("y1", top).attr("y2", bottom)
    .attr("stroke", gridColor).attr("stroke-dasharray", "3,3");

  // candles
  g.append("g").selectAll("line").data(bars).join("line")
    .attr("x1", d => x(d.day) + 2.5).attr("x2", d => x(d.day) + 2.5)
    .attr("y1", d => y(d.h)).attr("y2", d => y(d.l))
    .attr("stroke", d => up(d) ? upLine : downLine)
    .attr("shape-rendering", "crispEdges");
  g.append("g").selectAll("rect").data(bars).join("rect")
    .attr("x", d => x(d.day) + 0.5)
    .attr("width", 4)
    .attr("y", d => Math.round(y(Math.max(d.o, d.c))) + 0.5)
    .attr("height", d => Math.max(1, Math.round(Math.abs(y(d.o) - y(d.c)))))
    .attr("fill", d => up(d) ? upFill : downFill)
    .attr("stroke", d => up(d) ? upLine : downLine)
    .attr("stroke-width", 1)
    .attr("shape-rendering", "crispEdges");

  // price axis
  const yAxis = g.append("g")
    .attr("transform", `translate(${right},0)`)
    .call(d3.axisRight(y).tickValues(labelTicks).tickSize(0).tickPadding(3)
      .tickFormat(d3.format(`.${yDigits[k]}f`)));
  yAxis.select(".domain").remove();
  yAxis.selectAll("text")
    .attr("fill", "#505050")
    .style("font-size", "8px")
    .style("font-family", "'Liberation Sans', Arial, sans-serif");

  // date axis
  const xAxis = g.append("g")
    .attr("transform", `translate(0,${bottom})`)
    .call(d3.axisBottom(x).tickValues(tickDays).tickSize(0).tickPadding(5)
      .tickFormat(d => tickNames[tickDays.indexOf(d)]));
  xAxis.select(".domain").remove();
  xAxis.selectAll("text")
    .attr("fill", "#454545")
    .style("font-size", "8.5px")
    .style("font-family", "'Liberation Sans', Arial, sans-serif");

  // last price tag
  const tag = g.append("g");
  const tagRect = tag.append("rect");
  const tagText = tag.append("text")
    .attr("x", right + 3.5)
    .attr("y", y(last.c) + 3)
    .attr("fill", "#000")
    .style("font-size", "8.5px")
    .text(lastLabels[k]);
  const tw = tagText.node().getComputedTextLength();
  tagRect.attr("x", right + 2).attr("y", Math.round(y(last.c)) - 5.5)
    .attr("width", tw + 3).attr("height", 11)
    .attr("fill", "#f9f92a");

  // header
  g.append("text")
    .attr("x", ox + 150).attr("y", oy + 21)
    .attr("fill", "#555")
    .style("font-size", "8.5px")
    .text(times[k]);
  g.append("text")
    .attr("x", ox + 257.5).attr("y", oy + 21)
    .attr("text-anchor", "end")
    .attr("fill", changes[k].startsWith("+") ? "#1a9a1a" : "#d0101a")
    .style("font-size", "9.2px")
    .text(changes[k]);
  g.append("text")
    .attr("x", ox + 263.5).attr("y", oy + 21)
    .attr("fill", "#5fa8de")
    .style("font-size", "9.2px")
    .text("\u00a9 finviz.com");

  g.append("text")
    .attr("x", ox + 6).attr("y", oy + 29.5)
    .attr("fill", "#808080")
    .attr("stroke", "#fff")
    .attr("stroke-width", 2.5)
    .attr("paint-order", "stroke")
    .style("font-size", "20px")
    .style("font-weight", "bold")
    .text(name);

  g.append("text")
    .attr("transform", `translate(${ox + 23},${oy + 103.5}) rotate(-90)`)
    .attr("text-anchor", "middle")
    .attr("fill", "#d2d2d2")
    .style("font-size", "14px")
    .style("font-weight", "bold")
    .text("DAILY");
});
</script>
</body>
</html>
